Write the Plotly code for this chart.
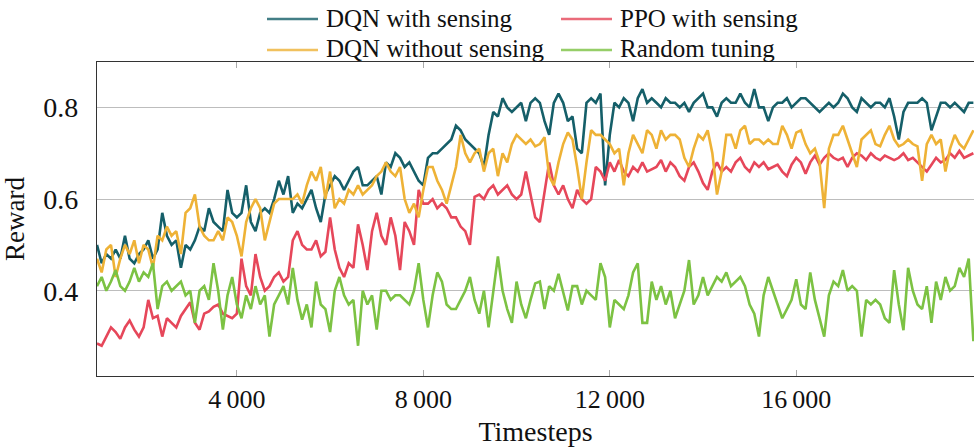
import plotly.graph_objects as go

timesteps = list(range(1000, 19801, 100))

dqn_sensing = [
    0.50,0.46,0.48,0.47,0.49,0.47,0.52,0.47,0.46,0.48,
    0.49,0.51,0.47,0.49,0.57,0.52,0.50,0.51,0.45,0.50,
    0.49,0.51,0.54,0.53,0.58,0.55,0.54,0.53,0.62,0.57,
    0.56,0.57,0.63,0.55,0.53,0.57,0.58,0.57,0.60,0.64,
    0.61,0.65,0.57,0.59,0.58,0.60,0.62,0.58,0.55,0.61,
    0.63,0.65,0.64,0.62,0.64,0.66,0.67,0.63,0.63,0.64,
    0.65,0.61,0.68,0.67,0.70,0.69,0.67,0.68,0.66,0.64,
    0.63,0.69,0.70,0.70,0.71,0.72,0.73,0.76,0.75,0.73,
    0.72,0.71,0.70,0.67,0.74,0.79,0.78,0.82,0.80,0.79,
    0.80,0.81,0.77,0.81,0.82,0.81,0.77,0.74,0.81,0.83,
    0.81,0.77,0.78,0.71,0.70,0.81,0.82,0.81,0.83,0.63,
    0.74,0.81,0.80,0.82,0.81,0.77,0.82,0.84,0.81,0.82,
    0.81,0.80,0.82,0.81,0.81,0.80,0.81,0.79,0.81,0.82,
    0.83,0.80,0.80,0.78,0.81,0.82,0.81,0.81,0.83,0.81,
    0.80,0.84,0.80,0.80,0.77,0.80,0.81,0.81,0.82,0.80,
    0.81,0.82,0.82,0.81,0.80,0.79,0.80,0.81,0.80,0.81,
    0.83,0.82,0.80,0.79,0.82,0.81,0.80,0.81,0.81,0.80,
    0.82,0.78,0.73,0.79,0.81,0.81,0.81,0.82,0.81,0.75,
    0.78,0.81,0.81,0.80,0.81,0.80,0.79,0.81,0.81,
]

dqn_no_sensing = [
    0.47,0.44,0.49,0.50,0.43,0.47,0.50,0.48,0.51,0.46,
    0.50,0.49,0.45,0.52,0.51,0.54,0.52,0.53,0.48,0.57,
    0.58,0.61,0.54,0.52,0.51,0.51,0.53,0.51,0.56,0.55,
    0.52,0.475,0.55,0.58,0.60,0.58,0.51,0.55,0.59,0.60,
    0.60,0.60,0.60,0.61,0.59,0.63,0.66,0.64,0.67,0.60,
    0.66,0.58,0.60,0.59,0.62,0.61,0.63,0.61,0.62,0.63,
    0.65,0.66,0.68,0.66,0.65,0.67,0.60,0.57,0.59,0.56,
    0.62,0.67,0.67,0.64,0.62,0.59,0.63,0.67,0.74,0.70,
    0.68,0.70,0.71,0.66,0.70,0.71,0.65,0.70,0.68,0.72,
    0.74,0.73,0.72,0.73,0.715,0.72,0.735,0.65,0.63,0.68,
    0.72,0.745,0.73,0.67,0.60,0.68,0.75,0.74,0.74,0.73,
    0.72,0.70,0.71,0.63,0.70,0.74,0.72,0.70,0.75,0.74,
    0.71,0.75,0.73,0.74,0.74,0.73,0.69,0.67,0.71,0.74,
    0.73,0.75,0.70,0.61,0.66,0.74,0.74,0.71,0.75,0.76,
    0.72,0.73,0.73,0.72,0.73,0.72,0.72,0.76,0.74,0.71,
    0.745,0.75,0.72,0.70,0.71,0.68,0.58,0.71,0.74,0.74,
    0.76,0.73,0.70,0.67,0.73,0.74,0.75,0.72,0.715,0.74,
    0.76,0.73,0.715,0.72,0.73,0.72,0.715,0.64,0.72,0.74,
    0.72,0.73,0.66,0.71,0.74,0.72,0.71,0.73,0.75,
]

ppo_sensing = [
    0.285,0.28,0.30,0.32,0.31,0.295,0.32,0.335,0.315,0.30,
    0.32,0.38,0.34,0.345,0.30,0.34,0.33,0.32,0.345,0.36,
    0.375,0.33,0.315,0.35,0.355,0.365,0.37,0.35,0.345,0.34,
    0.35,0.47,0.41,0.39,0.48,0.43,0.40,0.41,0.43,0.44,
    0.42,0.43,0.51,0.53,0.50,0.49,0.49,0.51,0.475,0.485,
    0.56,0.49,0.45,0.43,0.46,0.45,0.545,0.50,0.445,0.53,
    0.57,0.52,0.50,0.56,0.52,0.445,0.55,0.53,0.50,0.62,
    0.59,0.59,0.60,0.58,0.59,0.58,0.56,0.56,0.54,0.53,
    0.50,0.605,0.61,0.60,0.62,0.63,0.61,0.62,0.63,0.61,
    0.60,0.61,0.66,0.61,0.56,0.55,0.62,0.68,0.63,0.61,
    0.63,0.60,0.58,0.62,0.60,0.59,0.60,0.67,0.66,0.64,
    0.68,0.66,0.685,0.66,0.65,0.67,0.66,0.68,0.66,0.665,
    0.67,0.685,0.66,0.68,0.67,0.65,0.64,0.67,0.68,0.66,
    0.635,0.62,0.66,0.68,0.66,0.67,0.66,0.68,0.69,0.67,
    0.66,0.68,0.67,0.68,0.665,0.67,0.675,0.66,0.65,0.675,
    0.69,0.68,0.655,0.68,0.695,0.675,0.69,0.70,0.69,0.685,
    0.69,0.67,0.69,0.70,0.695,0.685,0.70,0.69,0.685,0.695,
    0.69,0.685,0.69,0.70,0.685,0.69,0.68,0.67,0.66,0.675,
    0.69,0.68,0.685,0.70,0.69,0.705,0.69,0.695,0.70,
]

random_tuning = [
    0.41,0.43,0.40,0.42,0.445,0.41,0.40,0.42,0.45,0.42,
    0.44,0.43,0.46,0.36,0.41,0.42,0.40,0.41,0.42,0.39,
    0.40,0.33,0.40,0.41,0.38,0.46,0.40,0.315,0.39,0.43,
    0.37,0.34,0.39,0.36,0.41,0.37,0.39,0.30,0.37,0.39,
    0.41,0.37,0.45,0.38,0.337,0.37,0.32,0.42,0.37,0.36,
    0.31,0.40,0.43,0.39,0.37,0.38,0.28,0.40,0.37,0.39,
    0.315,0.40,0.40,0.38,0.39,0.39,0.38,0.37,0.40,0.46,
    0.38,0.32,0.39,0.44,0.42,0.37,0.36,0.36,0.38,0.40,
    0.43,0.38,0.35,0.40,0.32,0.40,0.475,0.40,0.36,0.33,
    0.42,0.37,0.34,0.38,0.416,0.42,0.36,0.41,0.40,0.437,
    0.40,0.357,0.41,0.41,0.37,0.40,0.39,0.38,0.46,0.43,
    0.32,0.38,0.37,0.36,0.39,0.44,0.46,0.33,0.33,0.42,
    0.38,0.41,0.37,0.40,0.34,0.37,0.40,0.467,0.37,0.39,
    0.43,0.39,0.41,0.43,0.42,0.44,0.41,0.42,0.43,0.41,
    0.37,0.35,0.30,0.39,0.43,0.40,0.37,0.34,0.36,0.38,
    0.425,0.37,0.36,0.44,0.38,0.343,0.30,0.39,0.42,0.41,
    0.445,0.40,0.41,0.40,0.30,0.38,0.37,0.38,0.37,0.34,
    0.33,0.445,0.37,0.314,0.45,0.40,0.37,0.36,0.41,0.33,
    0.42,0.38,0.43,0.40,0.41,0.45,0.43,0.47,0.29,
]

series_names = ["DQN with sensing", "PPO with sensing", "DQN without sensing", "Random tuning"]

x_tick_vals = [4000, 8000, 12000, 16000]
x_tick_text = ["4\u2009000", "8\u2009000", "12\u2009000", "16\u2009000"]
y_tick_vals = [0.4, 0.6, 0.8]
y_tick_text = ["0.4", "0.6", "0.8"]

FONT = "'Liberation Serif', 'Times New Roman', 'DejaVu Serif', serif"
C_TEAL = "#155f69"
C_RED = "#e6475a"
C_YEL = "#eeb236"
C_GRN = "#7cc243"
LW = 2.6

series = [
    (series_names[0], dqn_sensing, C_TEAL),
    (series_names[1], ppo_sensing, C_RED),
    (series_names[2], dqn_no_sensing, C_YEL),
    (series_names[3], random_tuning, C_GRN),
]

fig = go.Figure()
for name, vals, col in series:
    fig.add_trace(go.Scatter(x=timesteps, y=vals, mode="lines", name=name,
                             line=dict(color=col, width=LW), showlegend=False))

# Manual two-column legend (pixel layout converted to paper coordinates)
L, W, T, H = 97, 877, 62, 314
def px(xp):
    return (xp - L) / W
def py(yp):
    return 1 + (T - yp) / H

legend_slots = [(267, 19), (561, 19), (267, 50), (561, 50)]
for (name, vals, col), (lx, ly) in zip(series, legend_slots):
    fig.add_shape(type="line", xref="paper", yref="paper",
                  x0=px(lx), x1=px(lx + 51), y0=py(ly), y1=py(ly),
                  line=dict(color=col, width=2.5), opacity=0.8)
    fig.add_annotation(xref="paper", yref="paper", x=px(lx + 57), y=py(ly - 1),
                       xanchor="left", yanchor="middle", showarrow=False,
                       text=name, font=dict(family=FONT, size=25, color="#111"))

fig.update_layout(
    width=974, height=447,
    margin=dict(l=97, r=0, t=62, b=71),
    paper_bgcolor="white", plot_bgcolor="white",
    font=dict(family=FONT, color="#111"),
    showlegend=False,
    xaxis=dict(
        range=[1000, 19813], tickvals=x_tick_vals, ticktext=x_tick_text,
        showgrid=False, zeroline=False,
        showline=True, linecolor="#333", linewidth=1.3, mirror="ticks",
        ticks="inside", ticklen=6, tickcolor="#aaa", tickwidth=1,
        tickfont=dict(family=FONT, size=26, color="#111"),
        title=dict(text="Timesteps", font=dict(family=FONT, size=28, color="#111"), standoff=13),
    ),
    yaxis=dict(
        range=[0.214, 0.899], tickvals=y_tick_vals, ticktext=y_tick_text,
        showgrid=True, gridcolor="#bdbdbd", gridwidth=1, zeroline=False,
        showline=True, linecolor="#333", linewidth=1.3, mirror=False,
        ticks="", ticklabelstandoff=12,
        tickfont=dict(family=FONT, size=28, color="#111"),
        title=dict(text="Reward", font=dict(family=FONT, size=27, color="#111"), standoff=10),
    ),
)

fig.write_html("out.html")
